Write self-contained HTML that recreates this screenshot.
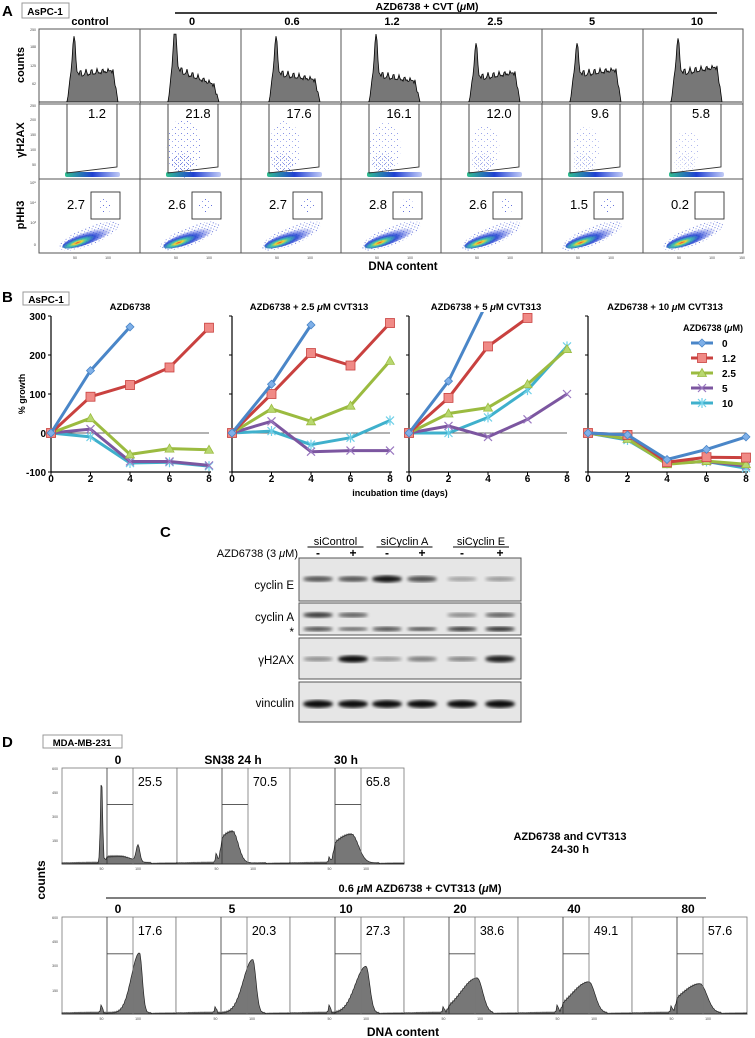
<!DOCTYPE html>
<html><head><meta charset="utf-8">
<style>
html,body{margin:0;padding:0;background:#fff;}
svg{display:block;font-family:"Liberation Sans",Arial,sans-serif;}
.b{font-weight:bold;}
</style></head>
<body>
<svg id="fig" width="755" height="1038" viewBox="0 0 755 1038" xmlns="http://www.w3.org/2000/svg">
<defs>
<pattern id="dots" width="4" height="4" patternUnits="userSpaceOnUse"><rect x="0" y="0" width="1" height="1" fill="#3a4fd0"/><rect x="2" y="2" width="1" height="1" fill="#6a7ae0"/></pattern>
<pattern id="dotsS" width="6" height="6" patternUnits="userSpaceOnUse"><rect x="1" y="1" width="1" height="1" fill="#5060d8"/><rect x="4" y="3" width="1" height="1" fill="#8090e8"/></pattern>
<radialGradient id="blob" cx="0.3" cy="0.6" r="0.7"><stop offset="0" stop-color="#e03020"/><stop offset="0.12" stop-color="#f0d020"/><stop offset="0.25" stop-color="#30c0a0"/><stop offset="0.5" stop-color="#2040d0"/><stop offset="1" stop-color="#4050e0" stop-opacity="0"/></radialGradient>
<linearGradient id="band" x1="0" x2="1"><stop offset="0" stop-color="#30c090"/><stop offset="0.5" stop-color="#2040d0"/><stop offset="1" stop-color="#3050e0" stop-opacity="0.3"/></linearGradient>
<filter id="blur1"><feGaussianBlur stdDeviation="1.6"/></filter>
<clipPath id="clipB"><rect x="0" y="312" width="755" height="170"/></clipPath>
</defs>

<text x="2" y="16" class="b" font-size="15">A</text>
<rect x="22" y="3" width="47" height="15" fill="none" stroke="#999"/>
<text x="45" y="15" class="b" font-size="10" text-anchor="middle">AsPC-1</text>
<text x="427" y="10" class="b" font-size="10.5" text-anchor="middle">AZD6738 + CVT (<tspan font-style="italic">μ</tspan>M)</text>
<line x1="175" y1="13" x2="717" y2="13" stroke="#000" stroke-width="1.5"/>
<g id="panelA"></g>
<text x="403" y="270" class="b" font-size="11.5" text-anchor="middle">DNA content</text>

<text x="2" y="302" class="b" font-size="15">B</text>
<rect x="23" y="292" width="46" height="13" fill="none" stroke="#999"/>
<text x="46" y="303" class="b" font-size="10" text-anchor="middle">AsPC-1</text>
<g id="panelB"></g>
<text x="400" y="496" class="b" font-size="9" text-anchor="middle">incubation time (days)</text>
<text transform="translate(25,394) rotate(-90)" font-size="9" text-anchor="middle" class="b">% growth</text>
<g id="legend"></g>

<text x="160" y="537" class="b" font-size="15">C</text>
<g id="panelC"></g>

<text x="2" y="747" class="b" font-size="15">D</text>
<rect x="43" y="735" width="79" height="13" fill="none" stroke="#999"/>
<text x="82" y="746" class="b" font-size="9.5" text-anchor="middle">MDA-MB-231</text>
<g id="panelD"></g>
<text x="570" y="840" class="b" font-size="11" text-anchor="middle">AZD6738 and CVT313</text>
<text x="570" y="853" class="b" font-size="11" text-anchor="middle">24-30 h</text>
<text transform="translate(45,880) rotate(-90)" class="b" font-size="12" text-anchor="middle">counts</text>
<text x="420" y="892" class="b" font-size="11" text-anchor="middle">0.6 <tspan font-style="italic">μ</tspan>M AZD6738  + CVT313 (<tspan font-style="italic">μ</tspan>M)</text>
<line x1="106" y1="898" x2="706" y2="898" stroke="#555" stroke-width="1.5"/>
<text x="403" y="1036" class="b" font-size="12" text-anchor="middle">DNA content</text>
</svg>

<script>
const NS="http://www.w3.org/2000/svg";
function mk(tag,attrs,parent,txt){const e=document.createElementNS(NS,tag);for(const k in attrs)e.setAttribute(k,attrs[k]);if(txt!==undefined)e.textContent=txt;parent.appendChild(e);return e;}

/* ---------- Panel A data ---------- */
const aCols=["control","0","0.6","1.2","2.5","5","10"];
const aG1Peak=[0.55,0.78,0.55,0.6,0.5,0.45,0.5];
const aSLevel=[0.40,0.45,0.40,0.38,0.35,0.40,0.42];
const aG2Level=[0.45,0.25,0.32,0.30,0.42,0.46,0.50];
const aH2AX=["1.2","21.8","17.6","16.1","12.0","9.6","5.8"];
const aPHH3=["2.7","2.6","2.7","2.8","2.6","1.5","0.2"];
const aH2AXDensity=[0.05,0.9,0.75,0.7,0.55,0.45,0.3];

const pA=document.getElementById('panelA');
const colX=[39,140,241,341,441,542,643,743];
const rowY=[29,104,179,253];
const colLabelX=[90,192,292,392,495,592,697];
for(let c=0;c<7;c++){
  const x0=colX[c],w=colX[c+1]-colX[c];
  const t=mk('text',{x:colLabelX[c],y:25,'font-size':11,'text-anchor':'middle',class:'b'},pA,aCols[c]);
  
  
  for(let r=0;r<3;r++){
    const cell=mk('rect',{x:x0,y:rowY[r],width:w,height:rowY[r+1]-rowY[r],fill:'#fff',stroke:'#555','stroke-width':1},pA);
    
    
  }
  const base=102,H=70;
  let d='M'+(x0+2)+','+base;
  for(let px=0;px<=98;px++){
    let v=0;
    if(px>=28&&px<=79){
      const ramp=Math.min(1,(px-28)/4);
      const fall=px>74?Math.max(0,(79-px)/5):1;
      const s=aSLevel[c]+(aG2Level[c]-aSLevel[c])*Math.max(0,(px-40)/34);
      v=(s*ramp*fall)+aG1Peak[c]*Math.exp(-Math.pow((px-35)/2.0,2));
      v+=0.02*Math.sin(px*2.3)+0.015*Math.sin(px*5.1);
      if(px>40&&px<74) v+=0.03*Math.sin(px*1.1);
    }
    v=Math.max(0,Math.min(0.97,v));
    d+=' L'+(x0+px)+','+(base-v*H).toFixed(1);
  }
  d+=' L'+(x0+w-1)+','+base+' Z';
  const hp=mk('path',{d:d,fill:'#777',stroke:'#000','stroke-width':0.8},pA);
  
  
  const dens=aH2AXDensity[c];
  if(dens>0.1){
    const e=mk('ellipse',{cx:x0+44,cy:148,rx:10+8*dens,ry:12+20*dens,fill:'url(#dotsS)',opacity:0.3+0.5*dens},pA);
    
    
    const e2=mk('ellipse',{cx:x0+42,cy:163,rx:11,ry:9,fill:'url(#dots)',opacity:dens*0.8},pA);
    
    
  }
  const band=mk('rect',{x:x0+26,y:172,width:55,height:5,rx:2,fill:'url(#band)'},pA);
  
  
  const gate=mk('path',{d:`M${x0+28},104 L${x0+28},173 L${x0+78},167 L${x0+78},104`,fill:'none',stroke:'#333','stroke-width':0.9},pA);
  
  
  const gt=mk('text',{x:x0+58,y:118,'font-size':13,'text-anchor':'middle'},pA,aH2AX[c]);
  
  
  const pe=mk('ellipse',{cx:x0+50,cy:236,rx:32,ry:9,fill:'url(#dots)',opacity:0.8,transform:`rotate(-22 ${x0+50} 236)`},pA);
  
  
  const pb=mk('ellipse',{cx:x0+48,cy:238,rx:26,ry:6,fill:'url(#blob)',opacity:0.9,transform:`rotate(-20 ${x0+48} 238)`},pA);
  
  
  if(c<6){const pd=mk('ellipse',{cx:x0+66,cy:206,rx:7,ry:7,fill:'url(#dotsS)',opacity:0.9},pA);
  
  }
  const bx=mk('rect',{x:x0+52,y:192,width:29,height:27,fill:'none',stroke:'#333','stroke-width':0.9},pA);
  
  
  const pt=mk('text',{x:x0+37,y:209,'font-size':13,'text-anchor':'middle'},pA,aPHH3[c]);
  
  
  [[50,'50'],[100,'100']].forEach(([v,l])=>{
    const tx=mk('text',{x:x0+3+v*0.66,y:259,'font-size':3.5,'text-anchor':'middle',fill:'#444'},pA,l);
    
    
  });
}
const t150=mk('text',{x:742,y:259,'font-size':3.5,'text-anchor':'middle',fill:'#444'},pA,'150');


[['counts',65],['γH2AX',140],['pHH3',215]].forEach(([l,y])=>{
  const rl=mk('text',{transform:`translate(24,${y}) rotate(-90)`,'font-size':11,'text-anchor':'middle',class:'b'},pA,l);
  
  
});
[['250',31],['188',48],['125',67],['62',85]].forEach(([l,y])=>{const e=mk('text',{x:36,y:y,'font-size':3.5,'text-anchor':'end',fill:'#444'},pA,l);});
[['250',107],['200',121],['150',136],['100',151],['50',166]].forEach(([l,y])=>{const e=mk('text',{x:36,y:y,'font-size':3.5,'text-anchor':'end',fill:'#444'},pA,l);});
[['10⁵',184],['10⁴',204],['10³',224],['0',246]].forEach(([l,y])=>{const e=mk('text',{x:36,y:y,'font-size':4,'text-anchor':'end',fill:'#444'},pA,l);});

/* ---------- Panel B data ---------- */
const days=[0,2,4,6,8];
const bTitles=["AZD6738","AZD6738 + 2.5 μM CVT313","AZD6738 + 5 μM CVT313","AZD6738 + 10 μM CVT313"];
const doseLabels=["0","1.2","2.5","5","10"];
const yTicks=[300,200,100,0,-100];
const p1_d0=[0,160,272], p1_d12=[0,93,123,168,270], p1_d25=[0,38,-55,-40,-43], p1_d5=[0,10,-73,-73,-83], p1_d10=[0,-10,-77,-75,-85];
const p2_d0=[0,125,277], p2_d12=[0,100,205,173,282], p2_d25=[0,62,30,70,185], p2_d5=[0,30,-48,-45,-45], p2_d10=[0,5,-30,-12,32];
const p3_d0=[0,133,340], p3_d12=[0,90,222,295], p3_d25=[0,50,65,125,215], p3_d5=[0,18,-10,35,100], p3_d10=[0,0,40,110,222];
const p4_d0=[0,-5,-68,-42,-10], p4_d12=[0,-5,-75,-62,-63], p4_d25=[0,-15,-80,-72,-80], p4_d5=[0,-15,-78,-73,-85], p4_d10=[0,-18,-78,-73,-90];
const bSeries=[[p1_d0,p1_d12,p1_d25,p1_d5,p1_d10],[p2_d0,p2_d12,p2_d25,p2_d5,p2_d10],[p3_d0,p3_d12,p3_d25,p3_d5,p3_d10],[p4_d0,p4_d12,p4_d25,p4_d5,p4_d10]];
const colors=["#4a86c8","#c9413f","#9bbb40","#7c56a0","#3fb0cc"];
const fills=["#7fb0e8","#f08a86","#b8d870","#9a78c0","#70d0e8"];
const plotX=[51,232,409,588], plotW=158, y0=433, yScale=0.39;
const pB=document.getElementById('panelB');
function bx(p,d){return plotX[p]+d/8*plotW;}
function by(v){return y0-v*yScale;}
function marker(g,k,x,y){
  let e;
  if(k===0) e=mk('path',{d:`M${x},${y-4} L${x+4},${y} L${x},${y+4} L${x-4},${y} Z`,fill:fills[0],stroke:colors[0],'stroke-width':0.8},g);
  else if(k===1) e=mk('rect',{x:x-4.5,y:y-4.5,width:9,height:9,fill:fills[1],stroke:colors[1],'stroke-width':0.8},g);
  else if(k===2) e=mk('path',{d:`M${x},${y-4.5} L${x+4.5},${y+3.5} L${x-4.5},${y+3.5} Z`,fill:fills[2],stroke:colors[2],'stroke-width':0.8},g);
  else if(k===3) e=mk('path',{d:`M${x-4},${y-4} L${x+4},${y+4} M${x+4},${y-4} L${x-4},${y+4}`,stroke:fills[3],'stroke-width':1.2},g);
  else e=mk('path',{d:`M${x-4},${y-4} L${x+4},${y+4} M${x+4},${y-4} L${x-4},${y+4} M${x},${y-5} L${x},${y+5}`,stroke:fills[4],'stroke-width':1.2},g);
  
  
}
for(let p=0;p<4;p++){
  const g=mk('g',{},pB);
  
  
  const tt=mk('text',{x:plotX[p]+plotW/2+(p===0?0:-2),y:310,'font-size':9.5,'text-anchor':'middle',class:'b'},g);
  
  
  const parts=bTitles[p].split('μ');
  if(parts.length>1){tt.appendChild(document.createTextNode(parts[0]));mk('tspan',{'font-style':'italic'},tt,'μ');tt.appendChild(document.createTextNode(parts[1]));}else tt.textContent=bTitles[p];
  const ya=mk('line',{x1:plotX[p],y1:by(300),x2:plotX[p],y2:by(-100),stroke:'#000','stroke-width':1.2},g);
  
  
  const xa=mk('line',{x1:plotX[p],y1:by(-100),x2:plotX[p]+plotW+2,y2:by(-100),stroke:'#000','stroke-width':1.2},g);
  
  
  const zl=mk('line',{x1:plotX[p],y1:by(0),x2:plotX[p]+plotW,y2:by(0),stroke:'#666','stroke-width':1},g);
  
  
  yTicks.forEach(v=>{
    const tk=mk('line',{x1:plotX[p]-3,y1:by(v),x2:plotX[p],y2:by(v),stroke:'#000'},g);
    
    
    if(p===0){const tl=mk('text',{x:plotX[p]-5,y:by(v)+4,'font-size':10,'text-anchor':'end',class:'b'},g,String(v));
    
    }
  });
  days.forEach(d=>{
    const tk=mk('line',{x1:bx(p,d),y1:by(-100),x2:bx(p,d),y2:by(-100)+3,stroke:'#000'},g);
    
    
    const tl=mk('text',{x:bx(p,d),y:482,'font-size':10,'text-anchor':'middle',class:'b'},g,String(d));
    
    
  });
  const sg=mk('g',{'clip-path':'url(#clipB)'},g);
  for(let k=4;k>=0;k--){
    const vals=bSeries[p][k];
    const pts=vals.map((v,i)=>bx(p,days[i]).toFixed(1)+','+by(v).toFixed(1)).join(' ');
    const pl=mk('polyline',{points:pts,fill:'none',stroke:colors[k],'stroke-width':3,'stroke-linejoin':'round'},sg);
    
    
    vals.forEach((v,i)=>{ if(v<=300) marker(sg,k,bx(p,days[i]),by(v)); });
  }
}
const lg=document.getElementById('legend');
const lt=mk('text',{x:713,y:331,'font-size':9,'text-anchor':'middle',class:'b'},lg);


lt.appendChild(document.createTextNode('AZD6738 ('));mk('tspan',{'font-style':'italic'},lt,'μ');lt.appendChild(document.createTextNode('M)'));
doseLabels.forEach((l,k)=>{
  const y=343+k*15;
  const eg=mk('g',{},lg);
  
  
  mk('line',{x1:691,y1:y,x2:713,y2:y,stroke:colors[k],'stroke-width':3},eg);
  marker(eg,k,702,y);
  mk('text',{x:722,y:y+4,'font-size':10,class:'b'},eg,l);
});

/* ---------- Panel C ---------- */
const lanes=[318,353,387,422,462,500];
const laneSign=["-","+","-","+","-","+"];
const groups=["siControl","siCyclin A","siCyclin E"];
const cycE=[0.6,0.6,0.95,0.65,0.2,0.25];
const cycA=[0.75,0.55,0,0,0.35,0.55];
const starBand=[0.7,0.55,0.7,0.65,0.8,0.85];
const h2ax=[0.3,1.0,0.25,0.4,0.35,0.9];
const vinc=[1,1,1,1,1,1];
const pC=document.getElementById('panelC');
groups.forEach((g,i)=>{
  const cx=(lanes[2*i]+lanes[2*i+1])/2;
  const t=mk('text',{x:cx,y:545,'font-size':11,'text-anchor':'middle'},pC,g);
  
  
  const l=mk('line',{x1:cx-28,y1:547,x2:cx+28,y2:547,stroke:'#000','stroke-width':1},pC);
  
  
});
const az=mk('text',{x:298,y:557,'font-size':11,'text-anchor':'end'},pC);


az.appendChild(document.createTextNode('AZD6738 (3 '));mk('tspan',{'font-style':'italic'},az,'μ');az.appendChild(document.createTextNode('M)'));
lanes.forEach((x,i)=>{const s=mk('text',{x:x,y:557,'font-size':12,'text-anchor':'middle',class:'b'},pC,laneSign[i]);});
const boxes=[[558,601,'cyclin E'],[603,635,'cyclin A'],[638,679,'γH2AX'],[682,722,'vinculin']];
boxes.forEach(([y1,y2,l])=>{
  const r=mk('rect',{x:299,y:y1,width:222,height:y2-y1,fill:'#e6e6e6',stroke:'#555','stroke-width':1},pC);
  
  
});
[['cyclin E',589],['cyclin A',621],['γH2AX',664],['vinculin',707]].forEach(([l,y])=>{
  const t=mk('text',{x:294,y:y,'font-size':11.5,'text-anchor':'end'},pC,l);
  
  
});
const st=mk('text',{x:294,y:636,'font-size':11.5,'text-anchor':'end'},pC,'*');


function bands(arr,y,h,name){
  arr.forEach((v,i)=>{ if(v<=0) return;
    const e=mk('ellipse',{cx:lanes[i],cy:y,rx:15,ry:h*(0.6+0.5*v),fill:'#000',opacity:(0.15+0.8*v).toFixed(2),filter:'url(#blur1)'},pC);
    
    
  });
}
bands(cycE,579,3.2,'cyclin-e');
bands(cycA,615,2.8,'cyclin-a');
bands(starBand,629,2.2,'nonspecific');
bands(h2ax,659,3.2,'h2ax');
bands(vinc,704,3.5,'vinculin');

/* ---------- Panel D ---------- */
const dTopTitles=["0","SN38 24 h","30 h"];
const dTopPct=["25.5","70.5","65.8"];
const dTopG1=[0.9,0.1,0.06];
const dTopSCenter=[75,72,80];
const dTopSHeight=[0.07,0.33,0.30];
const dTopSWidth=[25,12,15];
const dTopG2=[0.17,0.0,0.0];
const dBotTitles=["0","5","10","20","40","80"];
const dBotPct=["17.6","20.3","27.3","38.6","49.1","57.6"];
const dBotG1=[0.08,0.06,0.08,0.06,0.08,0.07];
const dBotSCenter=[102,101,100,96,93,89];
const dBotSHeight=[0.62,0.55,0.48,0.36,0.32,0.30];
const dBotSWidth=[6,7,8,12,13,15];
const pD=document.getElementById('panelD');
function dHist(x0,yTop,yBot,w,g1,sc,sh,sw,g2,title,pct,idx,row){
  const g=mk('g',{},pD);
  
  
  mk('rect',{x:x0,y:yTop,width:w,height:yBot-yTop,fill:'#fff',stroke:'#777','stroke-width':0.8},g);
  const H=yBot-yTop;
  let d='M'+x0+','+yBot;
  for(let px=0;px<=w;px++){
    const v=(px-3)/0.73;
    let y=0.012;
    y+=g1*Math.exp(-Math.pow((v-50)/2,2));
    y+=g2*Math.exp(-Math.pow((v-100)/3.5,2));
    const left=v<sc?Math.exp(-Math.pow((v-sc)/(sw*2.6),2)):Math.exp(-Math.pow((v-sc)/(sw*0.9),2));
    if(v>52&&v<118) y+=sh*left*Math.min(1,(v-52)/6);
    if(v>118) y=0.005;
    y+=0.01*Math.sin(px*3.1);
    y=Math.max(0,Math.min(1,y));
    d+=' L'+(x0+px)+','+(yBot-y*H).toFixed(1);
  }
  d+=' L'+(x0+w)+','+yBot+' Z';
  mk('path',{d:d,fill:'#777',stroke:'#222','stroke-width':0.7},g);
  const gl=x0+45, gr=x0+71, gy=yTop+(yBot-yTop)*0.38;
  mk('line',{x1:gl,y1:yTop,x2:gl,y2:yBot,stroke:'#333','stroke-width':0.8},g);
  mk('line',{x1:gr,y1:yTop,x2:gr,y2:yBot,stroke:'#777','stroke-width':0.8},g);
  mk('line',{x1:gl,y1:gy,x2:gr,y2:gy,stroke:'#444','stroke-width':0.9},g);
  const tt=mk('text',{x:x0+56,y:yTop-4,'font-size':12,'text-anchor':'middle',class:'b'},g,title);
  
  
  const pt=mk('text',{x:x0+88,y:yTop+18,'font-size':12.5,'text-anchor':'middle'},g,pct);
  
  
  [['50',50],['100',100]].forEach(([l,v])=>{mk('text',{x:x0+3+v*0.73,y:yBot+6,'font-size':3.5,'text-anchor':'middle',fill:'#444'},g,l);});
}
const topX=[62,177,290,404], botX=[62,176,290,404,518,632,747];
for(let i=0;i<3;i++) dHist(topX[i],768,864,topX[i+1]-topX[i],dTopG1[i],dTopSCenter[i],dTopSHeight[i],dTopSWidth[i],dTopG2[i],dTopTitles[i],dTopPct[i],i,'top');
for(let i=0;i<6;i++) dHist(botX[i],917,1014,botX[i+1]-botX[i],dBotG1[i],dBotSCenter[i],dBotSHeight[i],dBotSWidth[i],0,dBotTitles[i],dBotPct[i],i,'bottom');
[[768,'600'],[792,'450'],[816,'300'],[840,'150']].forEach(([y,l])=>{const e=mk('text',{x:58,y:y+2,'font-size':3.5,'text-anchor':'end',fill:'#444'},pD,l);});
[[917,'600'],[941,'450'],[965,'300'],[990,'150']].forEach(([y,l])=>{const e=mk('text',{x:58,y:y+2,'font-size':3.5,'text-anchor':'end',fill:'#444'},pD,l);});
</script>
</body></html>
